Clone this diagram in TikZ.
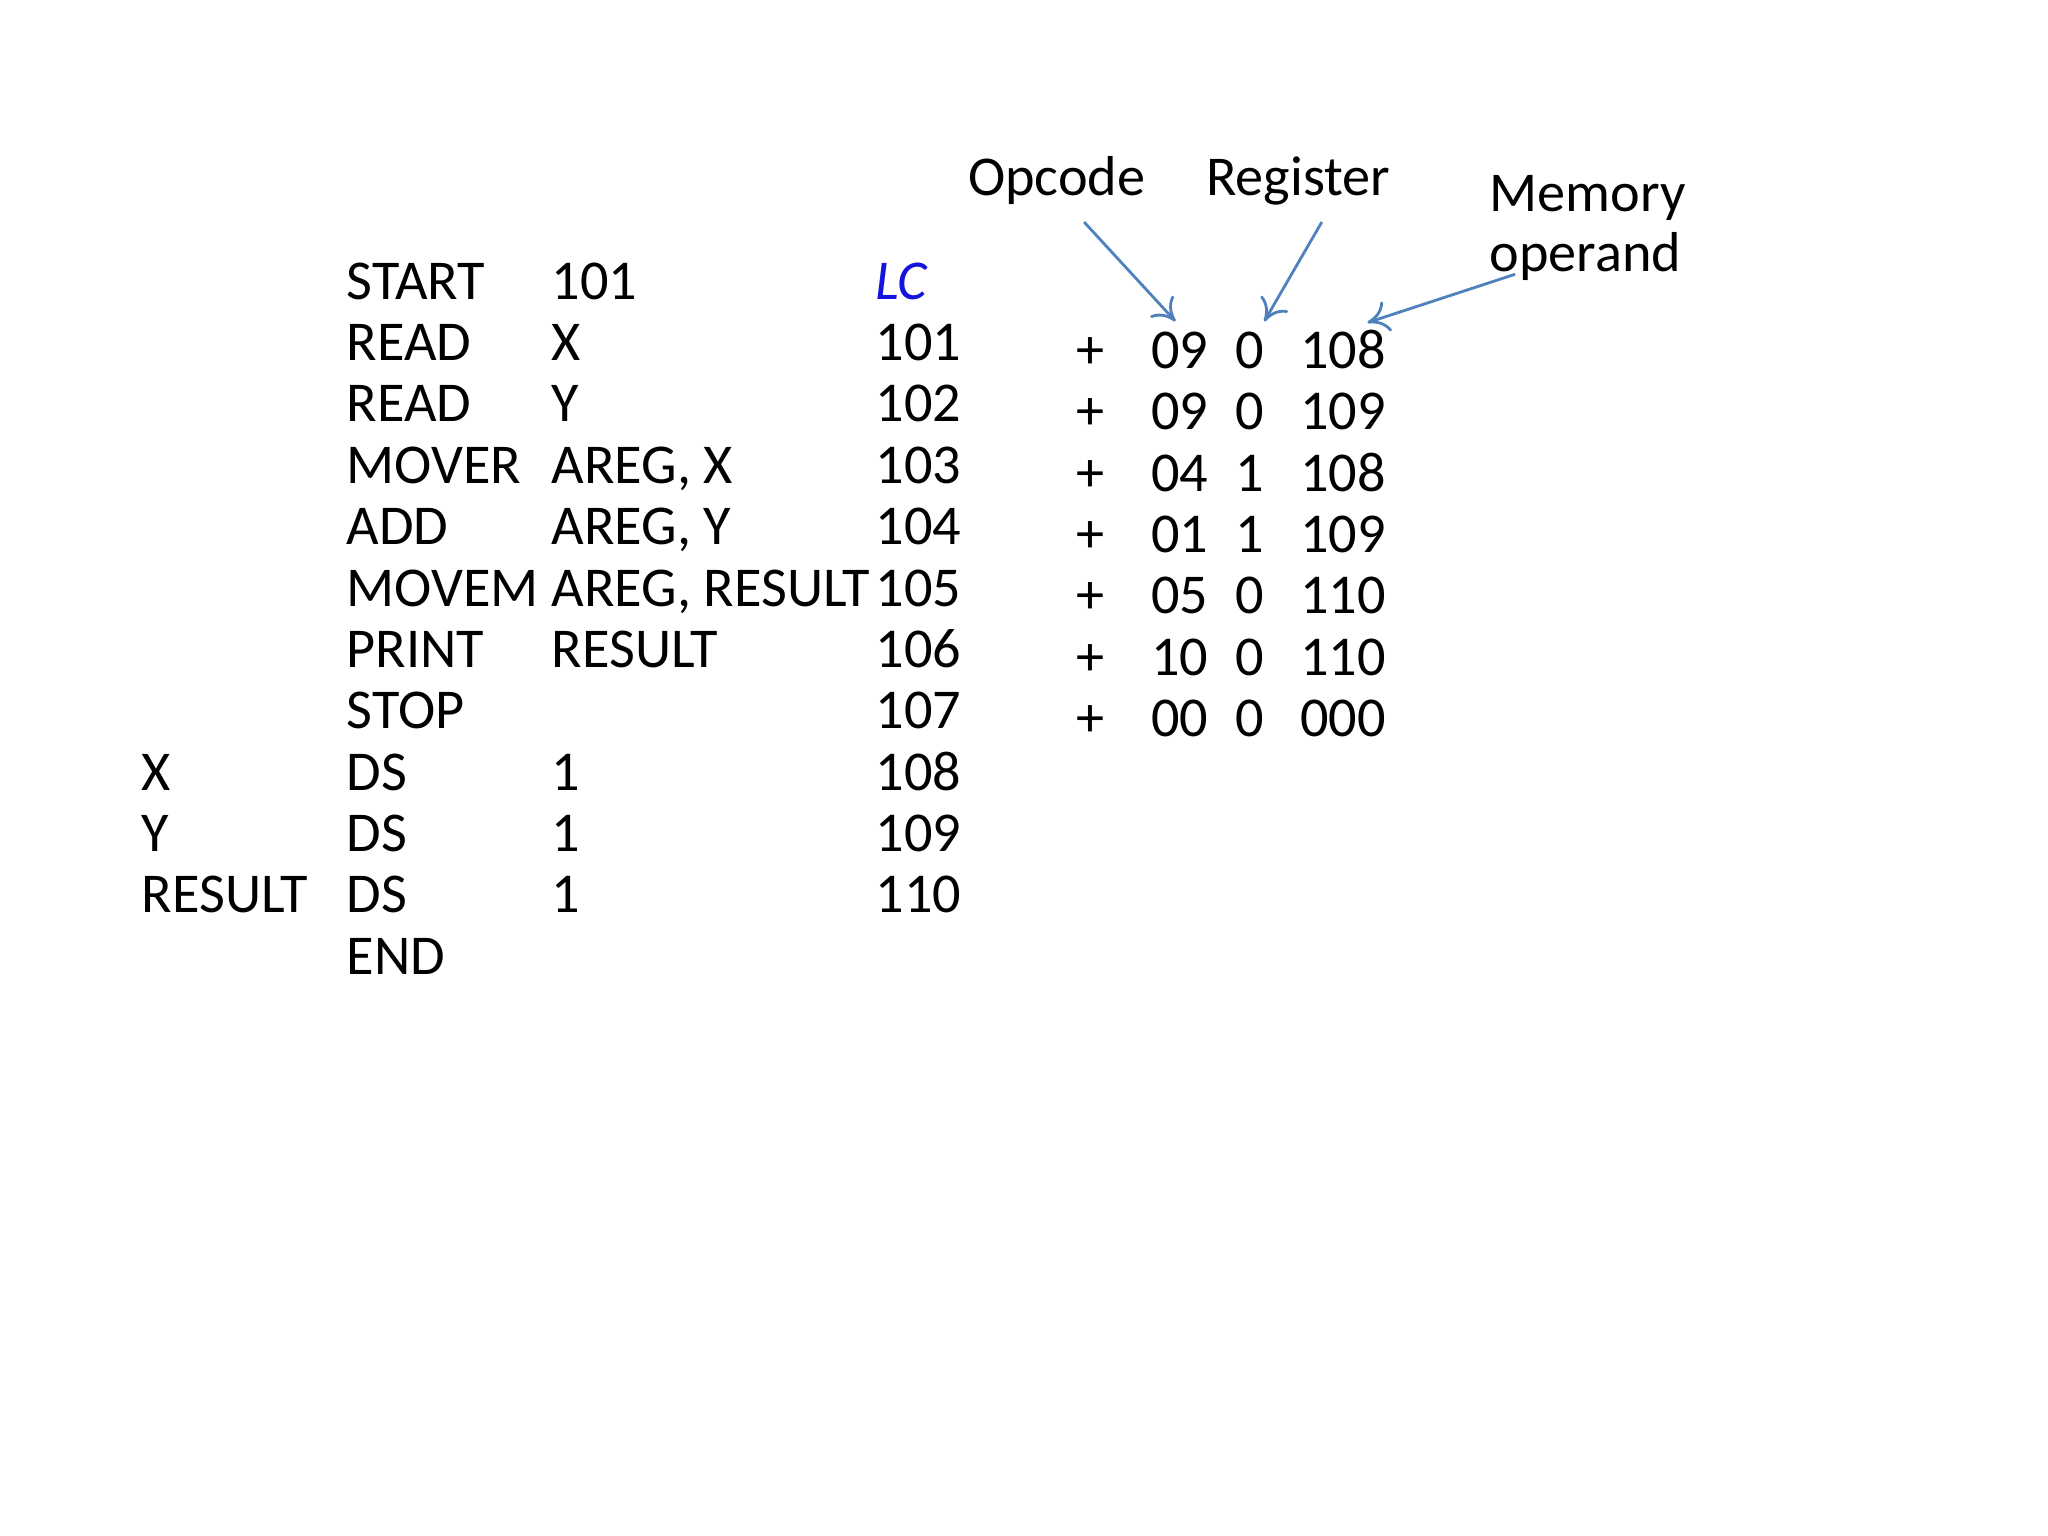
\documentclass[tikz,border=0pt]{standalone}
\usetikzlibrary{arrows.meta}
\usepackage{fontspec}
\setmainfont{Carlito}
\definecolor{arr}{RGB}{79,129,189}
\definecolor{lcblue}{RGB}{20,20,220}
\begin{document}
\begin{tikzpicture}[x=0.01306cm,y=-0.01306cm,
  txt/.style={anchor=base west,inner sep=0pt,font=\fontsize{16}{19}\selectfont},
  ctxt/.style={anchor=base,inner sep=0pt,font=\fontsize{16}{19}\selectfont},
  arrline/.style={draw=arr,line width=0.8pt,-{To[length=6pt,width=9pt]}}]
\useasboundingbox (0,0) rectangle (1568,1176);
% left table
\foreach \i/\lab/\op/\arg/\lc in {0//START/101/,1//READ/X/101,2//READ/Y/102,3//MOVER/{AREG, X}/103,4//ADD/{AREG, Y}/104,5//MOVEM/{AREG, RESULT}/105,6//PRINT/RESULT/106,7//STOP//107,8/X/DS/1/108,9/Y/DS/1/109,10/RESULT/DS/1/110,11//END//}{
  \node[txt] (lab\i) at (108,{229+47*\i}) {\lab};
  \node[txt] (op\i) at (265,{229+47*\i}) {\op};
  \node[txt] (arg\i) at (422,{229+47*\i}) {\arg};
  \node[txt] (lc\i) at (670,{229+47*\i}) {\lc};
}
\node[txt,text=lcblue] (lchead) at (670,229) {\itshape LC};
% right table
\foreach \i/\a/\b/\c in {0/09/0/108,1/09/0/109,2/04/1/108,3/01/1/109,4/05/0/110,5/10/0/110,6/00/0/000}{
  \node[ctxt] (p\i) at (835,{282+47*\i}) {+};
  \node[txt] (oc\i) at (881,{282+47*\i}) {\a};
  \node[ctxt] (rg\i) at (957,{282+47*\i}) {\b};
  \node[txt] (mo\i) at (995,{282+47*\i}) {\c};
}
\node[ctxt] (opc) at (809,150) {Opcode};
\node[ctxt] (reg) at (994,150) {Register};
\node[txt] (mem1) at (1140,162) {Memory};
\node[txt] (mem2) at (1140,208) {operand};
\coordinate (a1s) at (830,170); \coordinate (a1e) at (900,246);
\coordinate (a2s) at (1012,170); \coordinate (a2e) at (968,246);
\coordinate (a3s) at (1160,210); \coordinate (a3e) at (1047,247);
\draw[arrline] (a1s) -- (a1e);
\draw[arrline] (a2s) -- (a2e);
\draw[arrline] (a3s) -- (a3e);
\end{tikzpicture}
\end{document}
